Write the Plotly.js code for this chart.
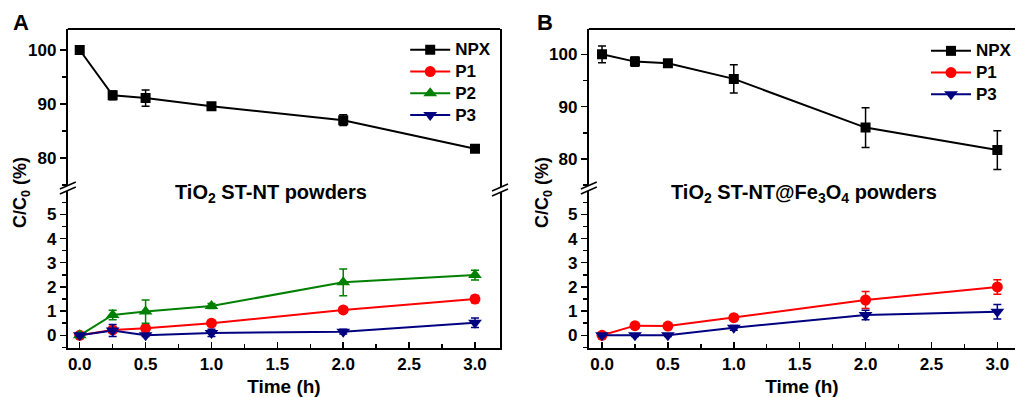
<!DOCTYPE html>
<html>
<head>
<meta charset="utf-8">
<script src="https://cdn.plot.ly/plotly-3.0.1.min.js"></script>
<style>html,body{margin:0;padding:0;background:#fff;}#chart{width:1017px;height:397px;}</style>
</head>
<body>
<div id="chart"></div>
<script>
// ---- data ----
var timeA = [0, 0.25, 0.5, 1.0, 2.0, 3.0];
var npxA = [100, 91.6, 91.1, 89.6, 87.0, 81.7];
var npxAerr = [0.3, 0.8, 1.5, 0.5, 1.0, 0.3];
var p1A = [0, 0.22, 0.29, 0.5, 1.05, 1.5];
var p1Aerr = [0.05, 0.1, 0.1, 0.1, 0.1, 0.15];
var p2A = [0, 0.84, 0.98, 1.21, 2.19, 2.49];
var p2Aerr = [0.1, 0.2, 0.48, 0.1, 0.55, 0.2];
var p3A = [0, 0.2, 0.0, 0.1, 0.15, 0.52];
var p3Aerr = [0.05, 0.25, 0.05, 0.15, 0.1, 0.2];

var timeB = [0, 0.25, 0.5, 1.0, 2.0, 3.0];
var npxB = [100, 98.6, 98.3, 95.3, 86.0, 81.7];
var npxBerr = [1.6, 0.9, 0.3, 2.7, 3.8, 3.7];
var p1B = [0, 0.4, 0.38, 0.73, 1.46, 2.0];
var p1Berr = [0.05, 0.1, 0.1, 0.1, 0.35, 0.3];
var p3B = [0, 0, 0, 0.31, 0.84, 0.97];
var p3Berr = [0.05, 0.05, 0.05, 0.1, 0.2, 0.3];

var upperTicks = [80, 90, 100];
var upperTickText = ['80', '90', '100'];
var lowerTicks = [0, 1, 2, 3, 4, 5];
var lowerTickText = ['0', '1', '2', '3', '4', '5'];
var xTicks = [0, 0.5, 1.0, 1.5, 2.0, 2.5, 3.0];
var xTickText = ['0.0', '0.5', '1.0', '1.5', '2.0', '2.5', '3.0'];

// ---- geometry helpers ----
var W = 1017, H = 397, MT = 29, MB = 49;
var PH = H - MT - MB;
function px(x) { return x / W; }
function py(y) { return (H - MB - y) / PH; }
function b(s) { return '<b>' + s + '</b>'; }
function legName(s) { return '<span style="font-size:17px"><b>' + s + '</b></span>'; }

var FONT = 'Arial, "Liberation Sans", sans-serif';
var cBlack = '#000000', cRed = '#ff0000', cGreen = '#008000', cBlue = '#000080';

function tr(x, y, err, color, sym, size, xa, ya, name, leg) {
  return {
    x: x, y: y, type: 'scatter', mode: 'lines+markers', name: legName(name),
    xaxis: xa, yaxis: ya, legend: leg, showlegend: true,
    line: {color: color, width: 2},
    marker: {color: color, symbol: sym, size: size},
    error_y: {type: 'data', array: err, visible: true, color: color, thickness: 1.5, width: 4}
  };
}

var data = [
  tr(timeA, npxA, npxAerr, cBlack, 'square', 10, 'x', 'y2', 'NPX', 'legend'),
  tr(timeA, p1A, p1Aerr, cRed, 'circle', 11, 'x', 'y', 'P1', 'legend'),
  tr(timeA, p2A, p2Aerr, cGreen, 'triangle-up', 12, 'x', 'y', 'P2', 'legend'),
  tr(timeA, p3A, p3Aerr, cBlue, 'triangle-down', 12, 'x', 'y', 'P3', 'legend'),
  tr(timeB, npxB, npxBerr, cBlack, 'square', 10, 'x2', 'y4', 'NPX', 'legend2'),
  tr(timeB, p1B, p1Berr, cRed, 'circle', 11, 'x2', 'y3', 'P1', 'legend2'),
  tr(timeB, p3B, p3Berr, cBlue, 'triangle-down', 12, 'x2', 'y3', 'P3', 'legend2')
];

var tickFont = {family: FONT, size: 17, color: '#000'};
var titleFont = {family: FONT, size: 19, color: '#000'};
var brk = py(188);

function xax(domain, range, anchor) {
  return {
    domain: domain, range: range, anchor: anchor,
    showline: true, linewidth: 2, linecolor: '#000', zeroline: false, showgrid: false,
    ticks: 'inside', ticklen: 6, tickwidth: 1.5, tickcolor: '#000',
    tickmode: 'array', tickvals: xTicks, ticktext: xTickText.map(b), tickfont: tickFont,
    minor: {ticks: 'inside', ticklen: 4, tickwidth: 1.5, tickcolor: '#000', dtick: 0.25, tick0: 0, showgrid: false},
    title: {text: b('Time (h)'), font: titleFont, standoff: 8}
  };
}
function yax(domain, range, anchor, vals, text, minorD, mirror) {
  return {
    domain: domain, range: range, anchor: anchor,
    showline: true, linewidth: 2, linecolor: '#000', mirror: mirror, zeroline: false, showgrid: false,
    ticks: 'outside', ticklen: 6, tickwidth: 1.5, tickcolor: '#000',
    tickmode: 'array', tickvals: vals, ticktext: text.map(b), tickfont: tickFont,
    minor: {ticks: 'outside', ticklen: 4, tickwidth: 1.5, tickcolor: '#000', dtick: minorD, showgrid: false}
  };
}

function brkShapes(x, y) {
  var s = [];
  s.push({type: 'path', xref: 'paper', yref: 'paper',
    path: 'M' + px(x - 8) + ',' + py(y + 1) + ' L' + px(x + 8) + ',' + py(y - 6) + ' L' + px(x + 8) + ',' + py(y - 1) + ' L' + px(x - 8) + ',' + py(y + 6) + ' Z',
    fillcolor: '#fff', line: {width: 0}});
  s.push({type: 'line', xref: 'paper', yref: 'paper', x0: px(x - 8), y0: py(y + 1), x1: px(x + 8), y1: py(y - 6), line: {color: '#000', width: 1.5}});
  s.push({type: 'line', xref: 'paper', yref: 'paper', x0: px(x - 8), y0: py(y + 6), x1: px(x + 8), y1: py(y - 1), line: {color: '#000', width: 1.5}});
  return s;
}

var shapes = [
  {type: 'line', xref: 'paper', yref: 'paper', x0: px(68), x1: px(501), y0: 1, y1: 1, line: {color: '#000', width: 2}},
  {type: 'line', xref: 'paper', yref: 'paper', x0: px(590), x1: 1, y0: 1, y1: 1, line: {color: '#000', width: 2}}
].concat(brkShapes(68, 188), brkShapes(501, 190), brkShapes(590, 188));

var legFont = {family: FONT, size: 14.4, color: '#000'};

function ann(text, x, y, size, angle) {
  return {text: text, xref: 'paper', yref: 'paper', x: px(x), y: py(y), xanchor: 'center', yanchor: 'middle',
    textangle: angle || 0, showarrow: false, font: {family: FONT, size: size, color: '#000'}};
}

var layout = {
  width: W, height: H,
  margin: {l: 0, r: 0, t: MT, b: MB, pad: 0},
  paper_bgcolor: '#fff', plot_bgcolor: 'rgba(0,0,0,0)',
  font: {family: FONT, color: '#000'},
  xaxis: xax([px(68), px(501)], [-0.09, 3.19], 'y'),
  xaxis2: xax([px(590), 1], [-0.1, 3.134], 'y3'),
  yaxis: yax([0, brk], [-0.525, 6.09], 'x', lowerTicks, lowerTickText, 0.5, true),
  yaxis2: yax([brk, 1], [74.44, 103.89], 'x', upperTicks, upperTickText, 5, true),
  yaxis3: yax([0, brk], [-0.525, 6.09], 'x2', lowerTicks, lowerTickText, 0.5, false),
  yaxis4: yax([brk, 1], [74.46, 104.83], 'x2', upperTicks, upperTickText, 5, false),
  legend: {x: px(406), y: py(34), xanchor: 'left', yanchor: 'top', bgcolor: 'rgba(0,0,0,0)',
    font: legFont, tracegroupgap: 0, itemwidth: 40},
  legend2: {x: px(928), y: py(35), xanchor: 'left', yanchor: 'top', bgcolor: 'rgba(0,0,0,0)',
    font: legFont, tracegroupgap: 0, itemwidth: 40},
  shapes: shapes,
  annotations: [
    ann(b('A'), 21, 22, 22),
    ann(b('B'), 546, 22, 22),
    ann(b('TiO<sub>2</sub> ST-NT powders'), 272, 193, 20),
    ann(b('TiO<sub>2</sub> ST-NT@Fe<sub>3</sub>O<sub>4</sub> powders'), 806, 193, 20),
    ann(b('C/C<sub>0</sub> (%)'), 21, 192, 18, -90),
    ann(b('C/C<sub>0</sub> (%)'), 544, 192, 18, -90)
  ]
};

Plotly.newPlot('chart', data, layout, {displayModeBar: false, staticPlot: true});
</script>
</body>
</html>
